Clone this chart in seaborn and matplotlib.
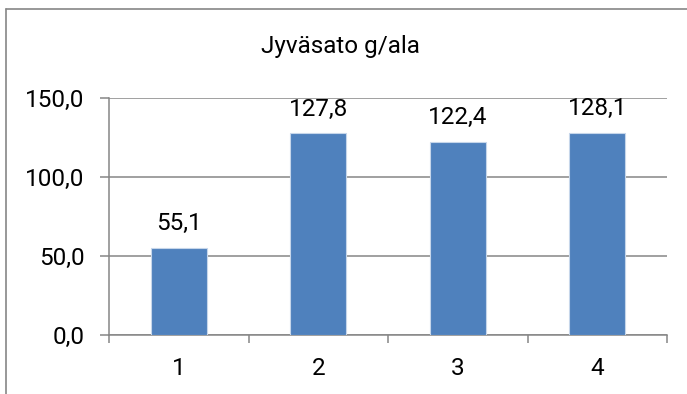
import matplotlib
matplotlib.use("Agg")
import matplotlib.pyplot as plt
import seaborn as sns
import pandas as pd
from matplotlib.ticker import FuncFormatter, FixedLocator
from matplotlib.lines import Line2D

categories = ["1", "2", "3", "4"]
values = [55.1, 127.8, 122.4, 128.1]
title = "Jyväsato g/ala"
yticks = [0, 50, 100, 150]

sns.set_theme(style="white")
plt.rcParams['font.family'] = ['Roboto', 'DejaVu Sans']

df = pd.DataFrame({"cat": categories, "val": values})

fig = plt.figure(figsize=(6.87, 3.94), dpi=100)
W, H = 687, 394
ax = fig.add_axes([109 / W, 1 - 335 / H, (667 - 109) / W, (335 - 98) / H])

grey = "#868686"
fs = 17.5
sns.barplot(data=df, x="cat", y="val", ax=ax, color="#4F81BD", saturation=1,
            width=0.4, edgecolor="#C6D6EA", linewidth=0.8, zorder=3)

ax.set_ylim(0, 150)
ax.set_xlim(-0.5, len(categories) - 0.5)
ax.set_yticks(yticks)
ax.yaxis.set_major_formatter(FuncFormatter(lambda v, p: f"{v:.1f}".replace(".", ",")))
ax.set_xlabel("")
ax.set_ylabel("")

ax.grid(axis="y", color=grey, linewidth=1.1, zorder=0)
ax.set_axisbelow(True)
for s in ["top", "right"]:
    ax.spines[s].set_visible(False)
for s in ["left", "bottom"]:
    ax.spines[s].set_color(grey)
    ax.spines[s].set_linewidth(1.1)

ax.tick_params(axis="y", length=6.5, width=1.1, color=grey, pad=11, labelsize=fs, labelcolor="black", left=True)
ax.tick_params(axis="x", which="major", length=0, pad=16, labelsize=fs, labelcolor="black")
ax.xaxis.set_minor_locator(FixedLocator([i - 0.5 for i in range(len(categories) + 1)]))
ax.tick_params(axis="x", which="minor", length=6, width=1.1, color=grey, bottom=True)

labels = [f"{v:.1f}".replace(".", ",") for v in values]
ax.bar_label(ax.containers[0], labels=labels, padding=9, fontsize=fs, color="black")

fig.text(340 / W, 1 - 46 / H, title, ha="center", va="center", fontsize=fs, color="black")

# outer chart border (top and left visible)
fig.add_artist(Line2D([6 / W, 1.0], [1 - 9 / H, 1 - 9 / H], transform=fig.transFigure, color=grey, linewidth=1.2))
fig.add_artist(Line2D([6 / W, 6 / W], [0, 1 - 9 / H], transform=fig.transFigure, color=grey, linewidth=1.2))

fig.savefig("out.png", dpi=100, facecolor="white")
